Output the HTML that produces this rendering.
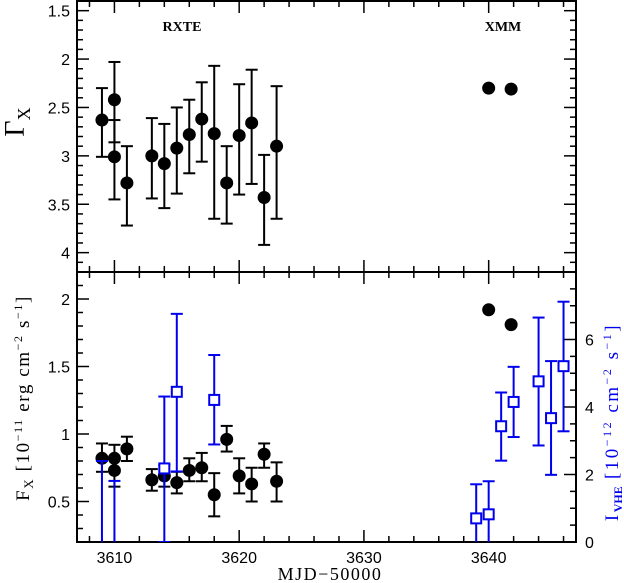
<!DOCTYPE html>
<html><head><meta charset="utf-8"><style>
html,body{margin:0;padding:0;background:#fff;}
svg{display:block;}
.tk{font-family:"Liberation Sans",sans-serif;font-size:16px;}
.sr{font-family:"Liberation Serif",serif;}
</style></head><body>
<svg id="c" width="624" height="583" viewBox="0 0 624 583" xmlns="http://www.w3.org/2000/svg"></svg>
<script>
// ---- data ----
const rxteDays = [3609,3610,3610,3611,3613,3614,3615,3616,3617,3618,3619,3620,3621,3622,3623];
const rxteGamma = [2.63,2.42,3.01,3.28,3.00,3.08,2.92,2.78,2.62,2.77,3.28,2.79,2.66,3.43,2.90];
const rxteGammaLo = [2.30,2.03,2.63,2.90,2.61,2.67,2.50,2.42,2.24,2.07,2.90,2.26,2.11,2.99,2.28];
const rxteGammaHi = [3.01,2.86,3.45,3.72,3.44,3.54,3.39,3.18,3.06,3.65,3.70,3.40,3.29,3.92,3.65];
const xmmDays = [3640,3641.8];
const xmmGamma = [2.30,2.31];
const xmmFlux = [1.92,1.81];
const rxteFlux = [0.82,0.82,0.73,0.89,0.66,0.69,0.64,0.73,0.75,0.55,0.96,0.69,0.63,0.85,0.65];
const rxteFluxLo = [0.72,0.73,0.61,0.80,0.58,0.61,0.56,0.65,0.65,0.39,0.87,0.56,0.50,0.75,0.50];
const rxteFluxHi = [0.93,0.92,0.82,0.98,0.74,0.77,0.72,0.82,0.86,0.71,1.06,0.82,0.75,0.93,0.79];
const vheDays = [3609,3610,3614,3615,3618,3639,3640,3641,3642,3644,3645,3646];
const vheFlux = [-0.5,-0.5,2.18,4.45,4.21,0.70,0.82,3.43,4.15,4.76,3.67,5.21];
const vheLo = [-1,-1,0.0,2.09,2.89,-1,-1,2.41,3.11,2.86,1.99,3.28];
const vheHi = [2.40,1.81,4.31,6.76,5.54,1.71,1.80,4.43,5.19,6.65,5.36,7.12];
const xTicks = [3610,3620,3630,3640];
const gTicks = [1.5,2,2.5,3,3.5,4];
const fTicks = [0.5,1,1.5,2];
const iTicks = [0,2,4,6];

// ---- geometry ----
const L=77,R=576,T1=1,B1=272,T2=272,B2=542;
const X0=3607,X1=3647;
const sx=d=>L+(d-X0)/(X1-X0)*(R-L);
const sg=g=>T1+(g-1.4)/(4.2-1.4)*(B1-T1);
const sf=f=>B2-(f-0.2)/(2.2-0.2)*(B2-T2);
const si=v=>B2-v/8*(B2-T2);
const svg=document.getElementById('c');
const NS='http://www.w3.org/2000/svg';
function mk(tag,attrs,parent){const e=document.createElementNS(NS,tag);for(const k in attrs)e.setAttribute(k,attrs[k]);(parent||svg).appendChild(e);return e;}
function line(x1,y1,x2,y2,col,w,p){return mk('line',{x1,y1,x2,y2,stroke:col||'#000','stroke-width':w||1.5},p);}
function txt(x,y,s,cls,anchor,p){const t=mk('text',{x,y,class:cls,'text-anchor':anchor||'middle'},p);t.textContent=s;return t;}

// x ticks
const gx=mk('g',{});


for(let d=3608;d<=3646;d+=2){
  const x=sx(d),maj=(d%10===0),len=maj?12:6;
  [[T1,1],[B1,-1],[T2,1],[B2,-1]].forEach(([y,s])=>line(x,y,x,y+s*len,'#000',1.5,gx));
}
xTicks.forEach(d=>{const t=txt(sx(d),563,String(d),'tk','middle',gx);});
// gamma ticks
const gy=mk('g',{});


for(let i=14;i<=42;i++){const g=i/10,y=sg(g),maj=(i%5===0),len=maj?12:6;
  line(L,y,L+len,y,'#000',1.5,gy);line(R,y,R-len,y,'#000',1.5,gy);}
gTicks.forEach(g=>{const t=txt(70,sg(g)+6,String(g),'tk','end',gy);});
// flux ticks
const fy=mk('g',{});


for(let i=2;i<=22;i++){const f=i/10,y=sf(f),maj=(i%5===0),len=maj?12:6;line(L,y,L+len,y,'#000',1.5,fy);}
fTicks.forEach(f=>{const t=txt(70,sf(f)+6,String(f),'tk','end',fy);});
// vhe ticks
const iy=mk('g',{});


for(let i=0;i<=16;i++){const v=i/2,y=si(v),maj=(i%4===0),len=maj?12:6;line(R,y,R-len,y,'#000',1.5,iy);}
iTicks.forEach(v=>{const t=txt(585,si(v)+6,String(v),'tk','start',iy);});

// frames
const fr1=mk('rect',{x:L,y:T1,width:R-L,height:B1-T1,fill:'none',stroke:'#000','stroke-width':2});


const fr2=mk('rect',{x:L,y:T2,width:R-L,height:B2-T2,fill:'none',stroke:'#000','stroke-width':2});



const defs=mk('defs',{});
const cp=mk('clipPath',{id:'cb'},defs);mk('rect',{x:L,y:T2,width:R-L,height:B2-T2},cp);

function errbar(x,y1,y2,col,p,cap){line(x,y1,x,y2,col,2,p);line(x-cap,y1,x+cap,y1,col,2,p);line(x-cap,y2,x+cap,y2,col,2,p);}
// gamma series
const gs=mk('g',{});


rxteDays.forEach((d,i)=>{const x=sx(d);errbar(x,sg(rxteGammaLo[i]),sg(rxteGammaHi[i]),'#000',gs,6);
  const c=mk('circle',{cx:x,cy:sg(rxteGamma[i]),r:6.5,fill:'#000'},gs);});
const gsx=mk('g',{});


xmmDays.forEach((d,i)=>{const c=mk('circle',{cx:sx(d),cy:sg(xmmGamma[i]),r:6.5,fill:'#000'},gsx);});

// flux series
const fs=mk('g',{'clip-path':'url(#cb)'});


rxteDays.forEach((d,i)=>{const x=sx(d);errbar(x,sf(rxteFluxLo[i]),sf(rxteFluxHi[i]),'#000',fs,6);
  const c=mk('circle',{cx:x,cy:sf(rxteFlux[i]),r:6.5,fill:'#000'},fs);});
xmmDays.forEach((d,i)=>{const c=mk('circle',{cx:sx(d),cy:sf(xmmFlux[i]),r:6.5,fill:'#000'},fs);});
// vhe series
const vs=mk('g',{'clip-path':'url(#cb)'});


vheDays.forEach((d,i)=>{const x=sx(d),b='#0000ee';
  line(x,si(vheLo[i]),x,si(vheHi[i]),b,2,vs);
  line(x-6,si(vheHi[i]),x+6,si(vheHi[i]),b,2,vs);
  if(vheLo[i]>=0)line(x-6,si(vheLo[i]),x+6,si(vheLo[i]),b,2,vs);
  if(vheFlux[i]>=0){const s=mk('rect',{x:x-5,y:si(vheFlux[i])-5,width:10,height:10,fill:'#fff',stroke:b,'stroke-width':2},vs);}
});

// labels
let t=txt(182,31,'RXTE','sr','middle');t.setAttribute('font-size','14');t.setAttribute('font-weight','bold');


t=txt(503,31,'XMM','sr','middle');t.setAttribute('font-size','14');t.setAttribute('font-weight','bold');


t=txt(330,580,'MJD\u221250000','sr','middle');t.setAttribute('font-size','18');t.setAttribute('letter-spacing','1.5');


const gt=mk('text',{x:0,y:0,transform:'translate(24,122) rotate(-90)','text-anchor':'middle',class:'sr','font-size':'28'});
gt.innerHTML='\u0393<tspan font-size="18" dy="6">X</tspan>';


const ft=mk('text',{x:0,y:0,transform:'translate(29,398) rotate(-90)','text-anchor':'middle',class:'sr','font-size':'19','letter-spacing':'1.6'});
ft.innerHTML='F<tspan font-size="13" dy="4">X</tspan><tspan dy="-4"> [10</tspan><tspan font-size="12" dy="-7">\u221211</tspan><tspan dy="7"> erg cm</tspan><tspan font-size="12" dy="-7">\u22122</tspan><tspan dy="7"> s</tspan><tspan font-size="12" dy="-7">\u22121</tspan><tspan dy="7">]</tspan>';


const it=mk('text',{x:0,y:0,transform:'translate(618,422) rotate(-90)','text-anchor':'middle',class:'sr','font-size':'19',fill:'#0000ee','letter-spacing':'2.5'});
it.innerHTML='I<tspan font-size="12" dy="4" font-weight="bold" letter-spacing="0">VHE</tspan><tspan dy="-4"> [10</tspan><tspan font-size="12" dy="-7">\u221212</tspan><tspan dy="7"> cm</tspan><tspan font-size="12" dy="-7">\u22122</tspan><tspan dy="7"> s</tspan><tspan font-size="12" dy="-7">\u22121</tspan><tspan dy="7">]</tspan>';


</script>
</body></html>
